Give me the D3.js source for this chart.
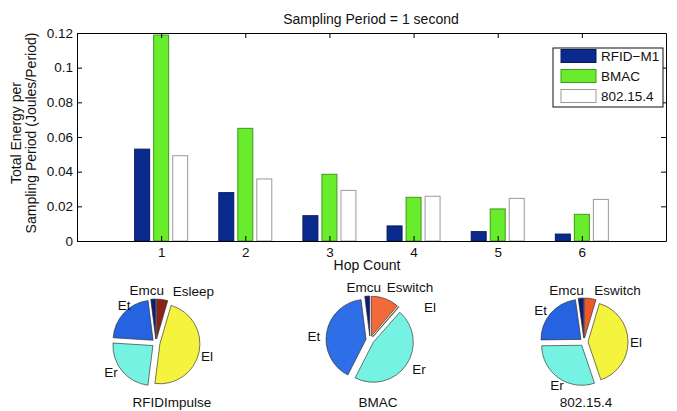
<!DOCTYPE html>
<html>
<head>
<meta charset="utf-8">
<script src="https://cdn.jsdelivr.net/npm/d3@7"></script>
<style>
    body { margin: 0; background: #fff; }
    text { font-family: "Liberation Sans", Arial, Helvetica, sans-serif; fill: #111; }
</style>
</head>
<body>
<svg id="chart"></svg>
<script>
// ---- data ----
const hops = [1, 2, 3, 4, 5, 6];
const seriesNames = ['RFID\u2212M1', 'BMAC', '802.15.4'];
const rfidM1 = [0.0530, 0.0279, 0.0146, 0.0087, 0.0054, 0.0040];
const bmac = [0.1188, 0.0650, 0.0385, 0.0252, 0.0185, 0.0154];
const ieee802 = [0.0492, 0.0358, 0.0292, 0.0258, 0.0246, 0.0240];
const yTicks = [0, 0.02, 0.04, 0.06, 0.08, 0.1, 0.12];

// energy breakdown pies (fractions, drawn counter-clockwise from 12 o'clock)
const pieRfidLabels = ['Emcu', 'Et', 'Er', 'El', 'Esleep'];
const pieRfidValues = [0.020, 0.220, 0.240, 0.475, 0.045];
const pieBmacLabels = ['Emcu', 'Et', 'Er', 'El', 'Eswitch'];
const pieBmacValues = [0.020, 0.405, 0.460, 0.003, 0.112];
const pie802Labels = ['Emcu', 'Et', 'Er', 'El', 'Eswitch'];
const pie802Values = [0.022, 0.230, 0.300, 0.402, 0.046];
const pieTitles = ['RFIDImpulse', 'BMAC', '802.15.4'];

// ---- styles ----
const barFill = ['#0b2a8e', '#68ec2c', '#ffffff'];
const barStroke = ['#071a5e', '#3f9a1c', '#9a9a9a'];

const W = 677, H = 411;
const plot = {left: 77, right: 666, top: 33, bottom: 241};

const svg = d3.select('#chart').attr('width', W).attr('height', H);
svg.append('rect').attr('width', W).attr('height', H).attr('fill', '#fff');

const x = d3.scaleLinear().domain([0, 7]).range([plot.left, plot.right]);
const y = d3.scaleLinear().domain([0, 0.12]).range([plot.bottom, plot.top]);
const inner = d3.scaleBand().domain(seriesNames).range([-0.315, 0.315]).paddingInner(0.212);

const series = [rfidM1, bmac, ieee802];
const bars = svg.append('g');
series.forEach((vals, k) => {
    bars.selectAll(null)
        .data(hops.map((h, i) => ({h: h, v: vals[i]})))
        .join('rect')
        .attr('x', d => x(d.h + inner(seriesNames[k])))
        .attr('width', x(inner.bandwidth()) - x(0))
        .attr('y', d => y(d.v))
        .attr('height', d => y(0) - y(d.v))
        .attr('fill', barFill[k])
        .attr('stroke', barStroke[k])
        .attr('stroke-width', 1);
});

// axes (MATLAB style box with inward ticks)
const tickFont = '13.5px';
svg.append('g')
    .attr('transform', `translate(0,${plot.bottom})`)
    .call(d3.axisBottom(x).tickValues(hops).tickFormat(d3.format('d')).tickSizeInner(-5).tickSizeOuter(0).tickPadding(6))
    .call(g => g.selectAll('text').style('font-size', tickFont).attr('fill', '#111'));
svg.append('g')
    .attr('transform', `translate(${plot.left},0)`)
    .call(d3.axisLeft(y).tickValues(yTicks).tickFormat(d3.format('~g')).tickSizeInner(-5).tickSizeOuter(0).tickPadding(4))
    .call(g => g.selectAll('text').style('font-size', tickFont).attr('fill', '#111'));
svg.append('g')
    .attr('transform', `translate(0,${plot.top})`)
    .call(d3.axisTop(x).tickValues(hops).tickFormat('').tickSizeInner(-5).tickSizeOuter(0));
svg.append('g')
    .attr('transform', `translate(${plot.right},0)`)
    .call(d3.axisRight(y).tickValues(yTicks).tickFormat('').tickSizeInner(-5).tickSizeOuter(0));

svg.append('text')
    .attr('x', 371).attr('y', 24)
    .attr('text-anchor', 'middle')
    .style('font-size', '14px')
    .text('Sampling Period = 1 second');

svg.append('text')
    .attr('x', 367).attr('y', 270)
    .attr('text-anchor', 'middle')
    .style('font-size', '14px')
    .text('Hop Count');

svg.append('text')
    .attr('transform', 'translate(21,133) rotate(-90)')
    .attr('text-anchor', 'middle')
    .style('font-size', '14px')
    .text('Total Energy per');
svg.append('text')
    .attr('transform', 'translate(36,133) rotate(-90)')
    .attr('text-anchor', 'middle')
    .style('font-size', '14px')
    .text('Sampling Period (Joules/Period)');

// legend
const legend = svg.append('g').attr('transform', 'translate(553,48)');
legend.append('rect')
    .attr('width', 110).attr('height', 59)
    .attr('fill', '#fff').attr('stroke', '#111').attr('stroke-width', 1);
seriesNames.forEach((name, k) => {
    const cy = 8 + k * 20;
    legend.append('rect')
        .attr('x', 8).attr('y', cy - 6.5)
        .attr('width', 35).attr('height', 13)
        .attr('fill', barFill[k]).attr('stroke', barStroke[k]);
    legend.append('text')
        .attr('x', 48).attr('y', cy)
        .attr('dominant-baseline', 'central')
        .style('font-size', tickFont)
        .text(name);
});

// ---- pies ----
const pieR = 40, explode = 4, labelR = 52;
const pies = [
    {labels: pieRfidLabels, values: pieRfidValues, cx: 156, cy: 343, titleDx: 16,
     colors: ['#0c1c78', '#2563e0', '#76f2e2', '#f4f43e', '#8a2418'],
     shift: [[-6, -1], [6, -2], [-5, -4], [0, 3], [30, 0]]},
    {labels: pieBmacLabels, values: pieBmacValues, cx: 370, cy: 340, titleDx: 8,
     colors: ['#0c1c78', '#2e6ee6', '#76f2e2', '#f4f43e', '#f26a3a'],
     shift: [[-3, -1], [-5, 5], [6, 0], [26, 7], [22, -4]]},
    {labels: pie802Labels, values: pie802Values, cx: 584, cy: 342, titleDx: 2,
     colors: ['#0c1c78', '#2563e0', '#76f2e2', '#f4f43e', '#f0582a'],
     shift: [[-14, 0], [-4, 2], [3, 1], [0, 1], [26, 0]]}
];

const arc = d3.arc().innerRadius(0).outerRadius(pieR);
const mid = d => (d.startAngle + d.endAngle) / 2;

pies.forEach((p, pi) => {
    const arcs = d3.pie().sort(null).startAngle(0).endAngle(-2 * Math.PI)(p.values);
    const g = svg.append('g').attr('transform', `translate(${p.cx},${p.cy})`);

    g.selectAll('path')
        .data(arcs)
        .join('path')
        .attr('transform', d => `translate(${Math.sin(mid(d)) * explode},${-Math.cos(mid(d)) * explode})`)
        .attr('d', arc)
        .attr('fill', (d, i) => p.colors[i])
        .attr('stroke', '#2a2a2a')
        .attr('stroke-opacity', 0.8)
        .attr('stroke-width', 0.8);

    g.selectAll('text.lab')
        .data(arcs)
        .join('text')
        .attr('class', 'lab')
        .attr('x', (d, i) => Math.sin(mid(d)) * labelR + p.shift[i][0])
        .attr('y', (d, i) => -Math.cos(mid(d)) * labelR + p.shift[i][1])
        .attr('text-anchor', 'middle')
        .attr('dominant-baseline', 'central')
        .style('font-size', tickFont)
        .text((d, i) => p.labels[i]);

    svg.append('text')
        .attr('x', p.cx + p.titleDx).attr('y', 407)
        .attr('text-anchor', 'middle')
        .style('font-size', tickFont)
        .text(pieTitles[pi]);
});
</script>
</body>
</html>
